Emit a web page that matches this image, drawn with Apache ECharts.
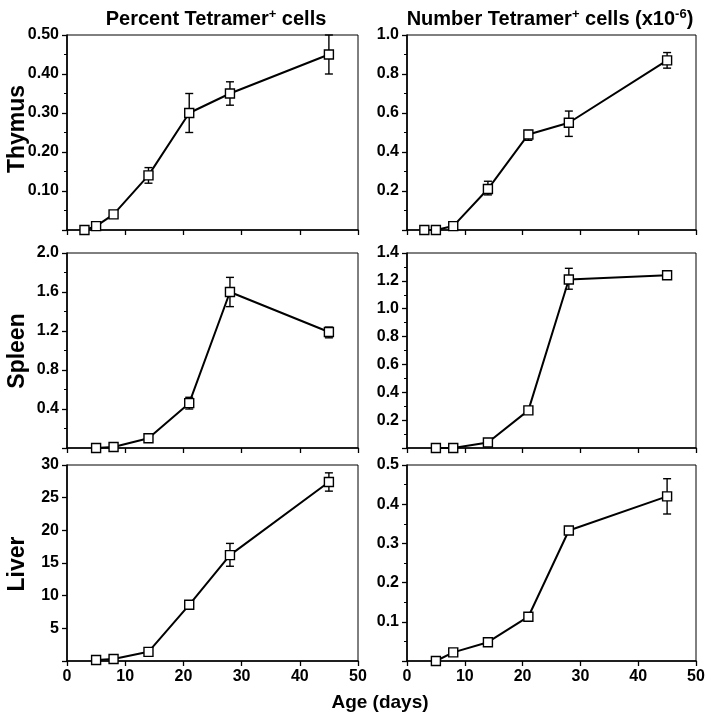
<!DOCTYPE html>
<html><head><meta charset="utf-8">
<script src="https://cdn.jsdelivr.net/npm/echarts@6/dist/echarts.min.js"></script>
<style>html,body{margin:0;padding:0;background:#fff}#c{width:710px;height:720px}</style>
</head><body><div id="c"></div>
<script>
// ---- data ----
const daysThymus = [3, 5, 8, 14, 21, 28, 45];
const daysOther = [5, 8, 14, 21, 28, 45];

const thymusPct = [0.00, 0.01, 0.04, 0.14, 0.30, 0.35, 0.45];
const thymusPctLo = [null, null, null, 0.12, 0.25, 0.32, 0.40];
const thymusPctHi = [null, null, null, 0.16, 0.35, 0.38, 0.50];

const thymusNum = [0.00, 0.00, 0.02, 0.21, 0.49, 0.55, 0.87];
const thymusNumLo = [null, null, null, 0.18, 0.46, 0.48, 0.83];
const thymusNumHi = [null, null, null, 0.25, 0.51, 0.61, 0.91];

const spleenPct = [0.00, 0.01, 0.10, 0.46, 1.60, 1.19];
const spleenPctLo = [null, null, null, 0.40, 1.45, 1.13];
const spleenPctHi = [null, null, null, 0.52, 1.75, 1.24];

const spleenNum = [0.00, 0.00, 0.04, 0.27, 1.21, 1.24];
const spleenNumLo = [null, null, null, null, 1.14, null];
const spleenNumHi = [null, null, null, null, 1.29, null];

const liverPct = [0.15, 0.3, 1.4, 8.6, 16.2, 27.4];
const liverPctLo = [null, null, null, null, 14.5, 26.0];
const liverPctHi = [null, null, null, null, 18.0, 28.8];

const liverNum = [0.00, 0.022, 0.048, 0.113, 0.333, 0.42];
const liverNumLo = [null, null, null, null, null, 0.375];
const liverNumHi = [null, null, null, null, null, 0.465];

const xTicks = [0, 10, 20, 30, 40, 50];
const colTitles = ['Percent Tetramer{sup|+} cells', 'Number Tetramer{sup|+} cells (x10{sup|-6})'];
const rowLabels = ['Thymus', 'Spleen', 'Liver'];

// y axis settings per panel: [max, interval, decimals, minorSplit]
const yAxisSpec = [
  [0.5, 0.1, 2, 2], [1.0, 0.2, 1, 2],
  [2.0, 0.4, 1, 2], [1.4, 0.2, 1, 2],
  [30, 5, 0, 0],    [0.5, 0.1, 1, 2]
];

const panels = [
  {x: daysThymus, y: thymusPct, lo: thymusPctLo, hi: thymusPctHi},
  {x: daysThymus, y: thymusNum, lo: thymusNumLo, hi: thymusNumHi},
  {x: daysOther, y: spleenPct, lo: spleenPctLo, hi: spleenPctHi},
  {x: daysOther, y: spleenNum, lo: spleenNumLo, hi: spleenNumHi},
  {x: daysOther, y: liverPct, lo: liverPctLo, hi: liverPctHi},
  {x: daysOther, y: liverNum, lo: liverNumLo, hi: liverNumHi}
];

// ---- layout ----
const FONT = 'Liberation Sans';
const colLeft = [67, 407], colWidth = [291, 289];
const rowTop = [35, 253, 465], rowHeight = [195, 195, 196];

const grids = [], xAxes = [], yAxes = [], series = [];
panels.forEach((p, i) => {
  const r = Math.floor(i / 2), c = i % 2;
  const spec = yAxisSpec[i];
  grids.push({left: colLeft[c], top: rowTop[r], width: colWidth[c], height: rowHeight[r],
    show: true, borderColor: '#000', borderWidth: 1, backgroundColor: 'transparent'});
  xAxes.push({type: 'value', gridIndex: i, min: xTicks[0], max: xTicks[xTicks.length - 1],
    interval: xTicks[1] - xTicks[0],
    axisLine: {show: true, onZero: false, lineStyle: {color: '#000', width: 1.6}},
    axisTick: {show: true, inside: false, length: 5, lineStyle: {color: '#000', width: 1.3}},
    axisLabel: {show: r === 2, color: '#000', fontFamily: FONT, fontWeight: 'bold', fontSize: 16, margin: 8},
    splitLine: {show: false}});
  yAxes.push({type: 'value', gridIndex: i, min: 0, max: spec[0], interval: spec[1],
    axisLine: {show: true, onZero: false, lineStyle: {color: '#000', width: 1.6}},
    axisTick: {show: true, inside: false, length: 5, lineStyle: {color: '#000', width: 1.3}},
    minorTick: {show: spec[3] > 0, splitNumber: spec[3] || 2, length: 3, lineStyle: {color: '#000', width: 1}},
    axisLabel: {color: '#000', fontFamily: FONT, fontWeight: 'bold', fontSize: 16, margin: 8,
      formatter: v => (Math.abs(v) < 1e-9 ? '' : v.toFixed(spec[2]))},
    splitLine: {show: false}});
  const errData = p.x.map((d, k) => [d, p.lo[k], p.hi[k]]).filter(e => e[1] != null);
  series.push({type: 'custom', xAxisIndex: i, yAxisIndex: i, z: 2, silent: true,
    data: errData,
    renderItem: function (params, api) {
      const x = api.value(0);
      const lo = api.coord([x, api.value(1)]);
      const hi = api.coord([x, api.value(2)]);
      const w = 4;
      const st = {stroke: '#000', lineWidth: 1.4};
      return {type: 'group', children: [
        {type: 'line', shape: {x1: lo[0], y1: lo[1], x2: hi[0], y2: hi[1]}, style: st},
        {type: 'line', shape: {x1: lo[0] - w, y1: lo[1], x2: lo[0] + w, y2: lo[1]}, style: st},
        {type: 'line', shape: {x1: hi[0] - w, y1: hi[1], x2: hi[0] + w, y2: hi[1]}, style: st}
      ]};
    }});
  series.push({type: 'line', xAxisIndex: i, yAxisIndex: i, z: 5,
    data: p.x.map((d, k) => [d, p.y[k]]),
    symbol: 'rect', symbolSize: 9, showSymbol: true,
    lineStyle: {color: '#000', width: 2},
    itemStyle: {color: '#fff', borderColor: '#000', borderWidth: 1.4},
    animation: false});
});

const titleRich = {sup: {fontSize: 13, fontWeight: 'bold', fontFamily: FONT, color: '#000', verticalAlign: 'top', padding: [0, 0, 9, 0]}};
const titles = colTitles.map((t, c) => ({
  text: t, left: [211, 545][c], top: 3, textAlign: 'center',
  textStyle: {fontFamily: FONT, fontWeight: 'bold', fontSize: 20, color: '#000', rich: titleRich}
}));

const graphics = rowLabels.map((t, r) => ({
  type: 'text', x: 18, y: [129, 351, 564][r], rotation: Math.PI / 2,
  style: {text: t, align: 'center', verticalAlign: 'middle', font: 'bold 23px ' + FONT, fill: '#000'}
}));
graphics.push({type: 'text', x: 380, y: 703,
  style: {text: 'Age (days)', align: 'center', verticalAlign: 'middle', font: 'bold 19px ' + FONT, fill: '#000'}});

const chart = echarts.init(document.getElementById('c'));
chart.setOption({
  animation: false,
  backgroundColor: '#fff',
  title: titles,
  grid: grids, xAxis: xAxes, yAxis: yAxes, series: series,
  graphic: graphics
});
</script></body></html>
